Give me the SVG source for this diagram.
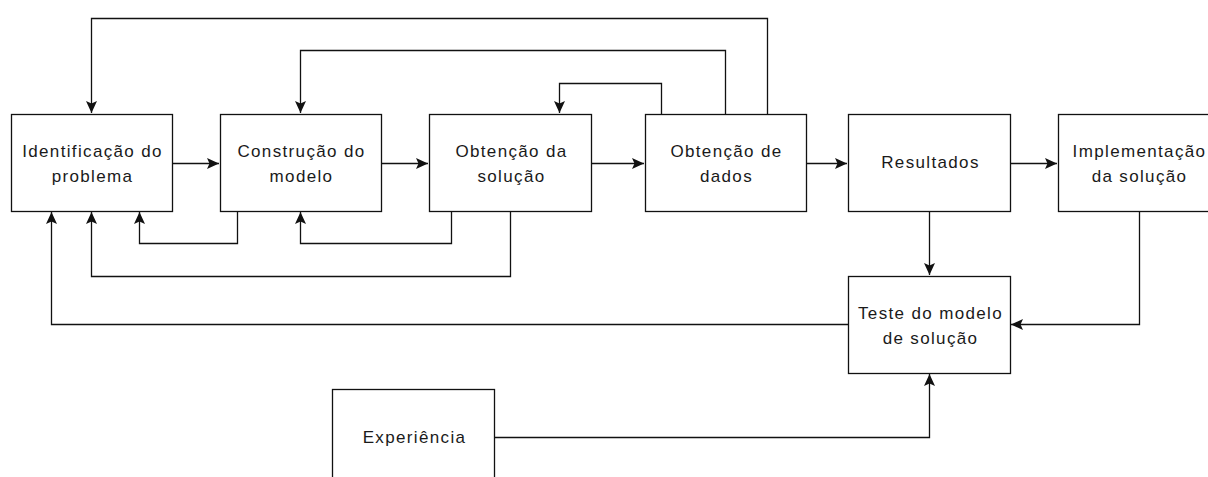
<svg xmlns="http://www.w3.org/2000/svg" width="1208" height="477" viewBox="0 0 1208 477">
<style>
.n rect{fill:#fff;stroke:#111;stroke-width:1.3}
.n text{font-family:"Liberation Sans",Arial,sans-serif;font-size:17px;letter-spacing:1.35px;fill:#1a1a1a;text-anchor:middle}
.c path{fill:none;stroke:#111;stroke-width:1.3}
</style>
<defs>
<marker id="ar" markerUnits="userSpaceOnUse" markerWidth="16" markerHeight="14" viewBox="-14 -7 16 14" refX="0" refY="0" orient="auto">
<path d="M0,0 L-12,-5.5 L-9.5,0 L-12,5.5 Z" fill="#111"/>
</marker>
</defs>
<rect width="1208" height="477" fill="#fff"/>
<g id="connectors" class="c">
<path d="M172.5,163.5 H219" marker-end="url(#ar)"/>
<path d="M381.5,163.5 H428" marker-end="url(#ar)"/>
<path d="M591.5,163.5 H644" marker-end="url(#ar)"/>
<path d="M806.5,163.5 H847" marker-end="url(#ar)"/>
<path d="M1010.5,163.5 H1057" marker-end="url(#ar)"/>
<path d="M767.5,114 V18.5 H91.5 V113" marker-end="url(#ar)"/>
<path d="M725.5,114 V50.5 H300.5 V113" marker-end="url(#ar)"/>
<path d="M661.5,114 V83.5 H559.5 V113" marker-end="url(#ar)"/>
<path d="M237.5,211 V243.5 H139.5 V212" marker-end="url(#ar)"/>
<path d="M451.5,211 V243.5 H300.5 V212" marker-end="url(#ar)"/>
<path d="M510.5,211 V276.5 H91.5 V212" marker-end="url(#ar)"/>
<path d="M848,324.5 H51.5 V212" marker-end="url(#ar)"/>
<path d="M929.5,211 V275" marker-end="url(#ar)"/>
<path d="M1139.5,211 V324.5 H1011" marker-end="url(#ar)"/>
<path d="M494,437.5 H929.5 V374" marker-end="url(#ar)"/>
</g>
<g id="n1" class="n"><rect x="11.5" y="114.5" width="161" height="97"/><text x="92.5" y="157">Identificação do</text><text x="92.5" y="182">problema</text></g>
<g id="n2" class="n"><rect x="220.5" y="114.5" width="161" height="97"/><text x="301.5" y="157">Construção do</text><text x="301.5" y="182">modelo</text></g>
<g id="n3" class="n"><rect x="429.5" y="114.5" width="162" height="97"/><text x="511.5" y="157">Obtenção da</text><text x="511.5" y="182">solução</text></g>
<g id="n4" class="n"><rect x="645.5" y="114.5" width="161" height="97"/><text x="726.5" y="157">Obtenção de</text><text x="726.5" y="182">dados</text></g>
<g id="n5" class="n"><rect x="848.5" y="114.5" width="162" height="97"/><text x="930.5" y="168">Resultados</text></g>
<g id="n6" class="n"><rect x="1058.5" y="114.5" width="161" height="97"/><text x="1139.5" y="157">Implementação</text><text x="1139.5" y="182">da solução</text></g>
<g id="n7" class="n"><rect x="848.5" y="276.5" width="162" height="97"/><text x="930.5" y="319">Teste do modelo</text><text x="930.5" y="344">de solução</text></g>
<g id="n8" class="n"><rect x="332.5" y="389.5" width="162" height="97"/><text x="414.5" y="443">Experiência</text></g>
</svg>
